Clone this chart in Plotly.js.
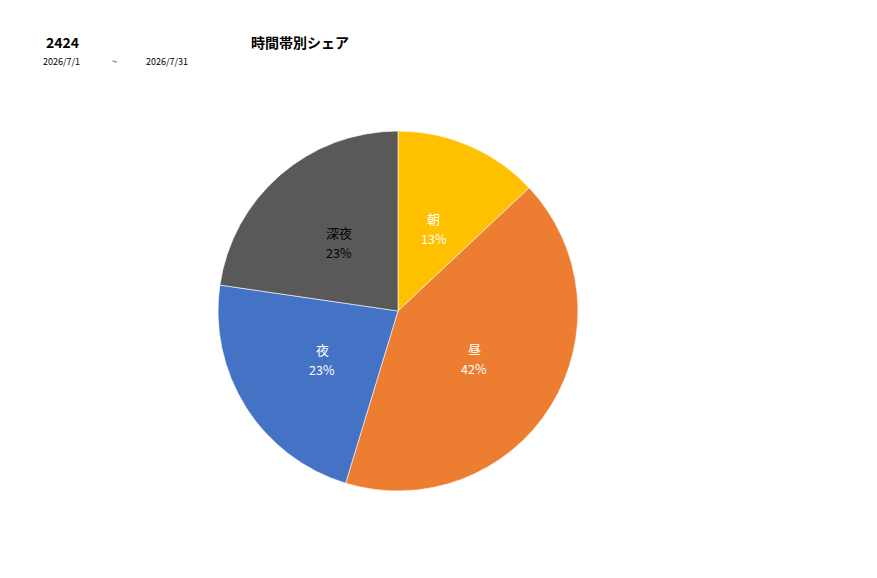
<!DOCTYPE html>
<html>
<head>
<meta charset="utf-8">
<script src="https://cdn.plot.ly/plotly-3.0.1.min.js"></script>
<style>
  body { margin: 0; background: #fff; }
  #chart { width: 877px; height: 578px; }
</style>
</head>
<body>
<div id="chart"></div>
<script>
// time-of-day share
var slotNames = ['朝', '昼', '夜', '深夜'];
var slotValues = [130, 417, 226, 227];
var slotColors = ['#FFC000', '#ED7D31', '#4472C4', '#595959'];
var labelColors = ['#ffffff', '#ffffff', '#ffffff', '#000000'];

var storeCode = '2424';
var chartTitle = '時間帯別シェア';
var dateFrom = '2026/7/1';
var dateTo = '2026/7/31';

var W = 877, H = 578;
var jpFont = '"Noto Sans CJK JP", "Noto Sans", sans-serif';
var pieDomain = { x: [0.2486, 0.659], y: [0.1505, 0.7734] };

var trace = {
  type: 'pie',
  labels: slotNames,
  values: slotValues,
  sort: false,
  direction: 'clockwise',
  rotation: 0,
  marker: {
    colors: slotColors,
    line: { color: '#ffffff', width: 0.6 }
  },
  textinfo: 'none',
  hoverinfo: 'label+percent',
  domain: pieDomain
};

// slice labels placed like Excel's: mid-angle, about half the radius out
function sliceLabels(){
  var total = slotValues.reduce(function(a, b){ return a + b; }, 0);
  var cx = (pieDomain.x[0] + pieDomain.x[1]) / 2 * W;
  var cy = (1 - (pieDomain.y[0] + pieDomain.y[1]) / 2) * H;
  var r = (pieDomain.x[1] - pieDomain.x[0]) * W / 2;
  var anns = [];
  var cum = 0;
  for (var i = 0; i < slotValues.length; i++) {
    var mid = (cum + slotValues[i] / 2) / total * 2 * Math.PI;
    cum += slotValues[i];
    var px = cx + Math.sin(mid) * r * 0.5;
    var py = cy - Math.cos(mid) * r * 0.5;
    var pct = Math.round(slotValues[i] / total * 100) + '%';
    anns.push({ text: slotNames[i], x: px, y: py - 10, xanchor: 'center', font: { size: 13, color: labelColors[i] } });
    anns.push({ text: pct, x: px, y: py + 10, xanchor: 'center', font: { size: 12.5, color: labelColors[i] } });
  }
  return anns;
}

var annotations = [
  { text: '<b>' + storeCode + '</b>', x: 44, y: 42, xanchor: 'left', font: { size: 14, color: '#000' } },
  { text: '<b>' + chartTitle + '</b>', x: 249, y: 42, xanchor: 'left', font: { size: 14, color: '#000' } },
  { text: dateFrom, x: 41, y: 62, xanchor: 'left', font: { size: 9, color: '#000' } },
  { text: '~', x: 110, y: 62, xanchor: 'left', font: { size: 9, color: '#000' } },
  { text: dateTo, x: 144, y: 62, xanchor: 'left', font: { size: 9, color: '#000' } }
].concat(sliceLabels()).map(function(a){
  a.xref = 'paper'; a.yref = 'paper';
  a.x = a.x / W; a.y = 1 - a.y / H;
  a.yanchor = 'middle';
  a.showarrow = false;
  return a;
});

var layout = {
  width: W,
  height: H,
  margin: { l: 0, r: 0, t: 0, b: 0 },
  paper_bgcolor: '#ffffff',
  showlegend: false,
  font: { family: jpFont },
  annotations: annotations
};

Plotly.newPlot('chart', [trace], layout, { displayModeBar: false, staticPlot: true });
</script>
</body>
</html>
